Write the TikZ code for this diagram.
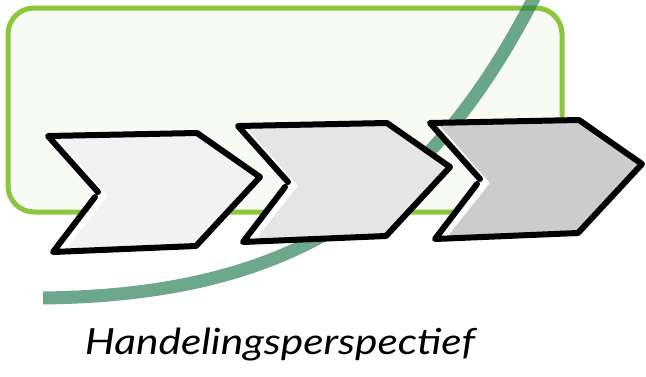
\documentclass[tikz,border=0pt]{standalone}
\usepackage{fontspec}
\newfontfamily\handfont{Lato}
\definecolor{kaderGroen}{HTML}{8CC63F}
\definecolor{kaderVulling}{HTML}{F8FBF3}
\definecolor{boogGroen}{HTML}{1E7A50}
\definecolor{pijlLicht}{HTML}{F2F2F2}
\definecolor{pijlMidden}{HTML}{E5E5E5}
\definecolor{pijlDonker}{HTML}{CCCCCC}
\begin{document}
\begin{tikzpicture}[x=1pt, y=-1pt,
    pijlrand/.style={line width=6pt, line join=round, line cap=round, black}]
    \useasboundingbox (0,0) rectangle (646,376);

    % Afgeronde kader op de achtergrond
    \draw[line width=5pt, kaderGroen, fill=kaderVulling, rounded corners=26pt]
        (8,8) rectangle (562,212);

    % Boog achter de pijlen
    \draw[line width=13pt, boogGroen, opacity=0.65]
        (43,298) .. controls (280,295) and (425,215) .. (538,-10);

    % Drie pijlen, van licht naar donker
    \foreach \px/\py/\kleur in {48/136/pijlLicht, 238/126/pijlMidden, 430/123/pijlDonker}{
      \begin{scope}[shift={(\px,\py)}]
        \fill[white] (0,0) -- (149,-3) -- (212,41) -- (148,110) -- (5,116) -- (51,58) -- cycle;
        \begin{scope}
          \clip (0,0) -- (149,-3) -- (212,41) -- (148,110) -- (5,116) -- (51,58) -- cycle;
          \fill[\kleur] (9,2) -- (158,-1) -- (221,43) -- (157,112) -- (14,118) -- (60,60) -- cycle;
        \end{scope}
        \draw[pijlrand] (50,56) -- (0,0) -- (149,-3) -- (212,41) -- (148,110) -- (5,116) -- (47,61);
      \end{scope}
    }

    % Onderschrift
    \node[font=\handfont\itshape\fontsize{36}{40}\selectfont, anchor=base] (titel) at (280,354)
        {\scalebox{1.18}[1]{Handelingsperspectief}};
\end{tikzpicture}
\end{document}
